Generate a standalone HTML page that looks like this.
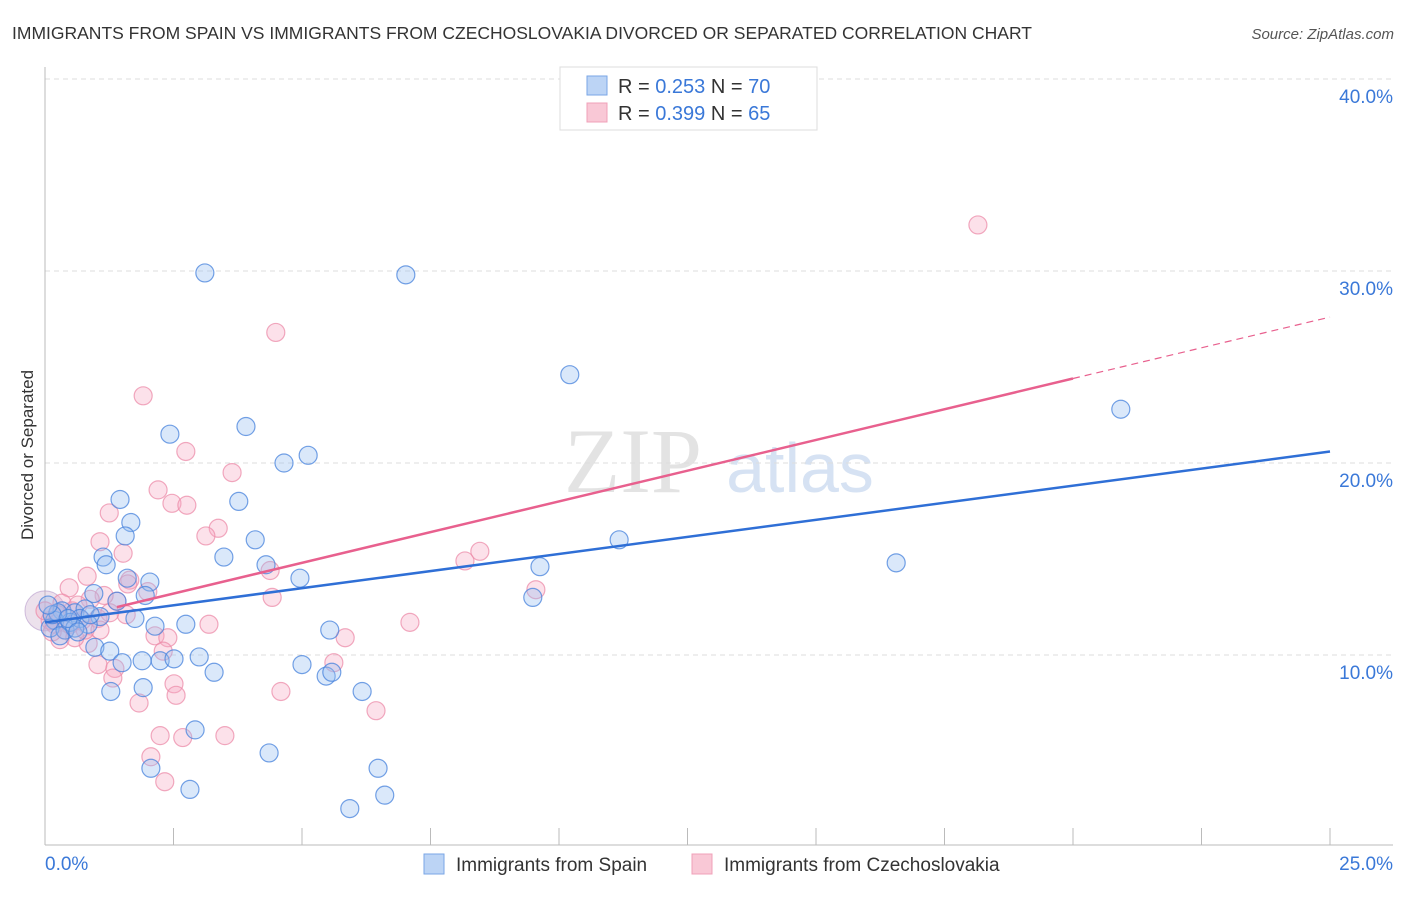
<!DOCTYPE html>
<html><head><meta charset="utf-8"><style>
body{margin:0;background:#fff;font-family:"Liberation Sans",sans-serif;}
</style></head><body>
<svg width="1406" height="892" xmlns="http://www.w3.org/2000/svg" id="chart" font-family="Liberation Sans, sans-serif">
<text x="12" y="39" font-size="17.5" fill="#333">IMMIGRANTS FROM SPAIN VS IMMIGRANTS FROM CZECHOSLOVAKIA DIVORCED OR SEPARATED CORRELATION CHART</text>
<text x="1394" y="39" font-size="15" fill="#555" font-style="italic" text-anchor="end">Source: ZipAtlas.com</text>
<text x="33" y="455" font-size="17" fill="#333" text-anchor="middle" transform="rotate(-90 33 455)">Divorced or Separated</text>
<g>
<text x="633" y="492" font-size="92" fill="#ddd" font-family="Liberation Serif, serif" text-anchor="middle" opacity="0.8">ZIP</text>
<text x="800" y="492" font-size="70" fill="#c5d7ee" text-anchor="middle" opacity="0.7">atlas</text>
</g>
<g id="grid"></g>
<g id="axes"></g>
<g id="points"></g>
<g id="lines"></g>
<g>
<rect x="560" y="67" width="257" height="63" fill="#fff" stroke="#ddd"/>
<rect x="587" y="76" width="20" height="19" fill="#bcd4f5" stroke="#7aa6e6"/>
<rect x="587" y="103" width="20" height="19" fill="#f9c8d6" stroke="#f0a0b8"/>
<text x="618" y="93" font-size="20" fill="#333">R = <tspan fill="#3a78d8">0.253</tspan>   N = <tspan fill="#3a78d8">70</tspan></text>
<text x="618" y="120" font-size="20" fill="#333">R = <tspan fill="#3a78d8">0.399</tspan>   N = <tspan fill="#3a78d8">65</tspan></text>
</g>
<g>
<rect x="424" y="854" width="20" height="20" fill="#bcd4f5" stroke="#7aa6e6"/>
<text x="456" y="871" font-size="19" fill="#333">Immigrants from Spain</text>
<rect x="692" y="854" width="20" height="20" fill="#f9c8d6" stroke="#f0a0b8"/>
<text x="724" y="871" font-size="19" fill="#333">Immigrants from Czechoslovakia</text>
</g>
</svg>
<script>
const blueX=[3.11,7.02,10.21,20.93,2.43,3.91,4.65,5.12,1.46,3.77,1.67,1.56,4.09,3.48,11.17,16.56,1.13,1.19,4.30,4.96,9.63,1.60,2.04,0.95,1.95,9.49,1.40,0.33,0.58,0.78,1.07,1.75,2.74,2.14,5.54,0.97,1.26,1.50,1.89,2.24,2.51,3.00,5.00,3.29,5.47,5.58,1.28,1.91,6.17,2.92,4.36,2.06,6.48,2.82,5.93,6.61,0.19,0.10,0.39,0.49,0.68,0.25,0.14,0.84,0.29,0.58,0.45,0.88,0.06,0.64];
const blueY=[29.9,29.8,24.6,22.8,21.5,21.9,20.0,20.4,18.1,18.0,16.9,16.2,16.0,15.1,16.0,14.8,15.1,14.7,14.7,14.0,14.6,14.0,13.8,13.2,13.1,13.0,12.8,12.3,12.2,12.4,12.0,11.9,11.6,11.5,11.3,10.4,10.2,9.6,9.7,9.7,9.8,9.9,9.5,9.1,8.9,9.1,8.1,8.3,8.1,6.1,4.9,4.1,4.1,3.0,2.0,2.7,11.8,11.4,11.3,11.7,11.9,12.2,12.1,11.6,11.0,11.4,11.9,12.1,12.6,11.2];
const pinkX=[18.15,4.49,1.91,2.74,3.64,2.20,2.47,2.76,1.25,3.37,3.13,1.07,1.52,8.17,8.46,0.82,1.65,1.61,4.38,0.47,2.00,9.55,4.42,1.40,1.15,7.10,3.19,1.58,1.03,5.84,2.14,2.39,0.84,2.30,5.62,1.03,1.36,1.32,2.51,2.55,4.59,1.83,6.44,2.24,2.68,3.50,2.06,2.33,0.29,0.19,0.53,0.72,0.39,0.10,0.33,0.88,0.58,0.25,0.78,0.49,1.07,1.26,0.14,0.64,0.0];
const pinkY=[32.4,26.8,23.5,20.6,19.5,18.6,17.9,17.8,17.4,16.6,16.2,15.9,15.3,14.9,15.4,14.1,13.9,13.7,14.4,13.5,13.3,13.4,13.0,12.8,13.1,11.7,11.6,12.1,11.9,10.9,11.0,10.9,10.6,10.2,9.6,9.5,9.3,8.8,8.5,7.9,8.1,7.5,7.1,5.8,5.7,5.8,4.7,3.4,10.8,11.6,12.3,11.8,11.3,11.8,12.7,12.9,10.9,12.1,11.3,11.6,11.3,12.2,11.2,12.6,12.3];
const yTicks=[10,20,30,40];
const yTickLabels=["10.0%","20.0%","30.0%","40.0%"];
const blueTrend=[11.7,20.6];
const pinkTrend=[11.6,24.4,27.6];
const pinkSolidEnd=20;
const NS="http://www.w3.org/2000/svg";
const sx=v=>45+v*51.4, sy=v=>847-v*19.2;
function mk(tag,attrs,parent){const e=document.createElementNS(NS,tag);for(const k in attrs)e.setAttribute(k,attrs[k]);document.getElementById(parent).appendChild(e);return e;}
yTicks.forEach((t,i)=>{
 const g=mk('line',{x1:45,x2:1393,y1:sy(t),y2:sy(t),stroke:'#ddd','stroke-dasharray':'5,4'},'grid');
 
 
 const l=mk('text',{x:1393,y:sy(t)+24,'font-size':19,fill:'#3a78d8','text-anchor':'end'},'grid');
 l.textContent=yTickLabels[i];
 
 
});
const ax=mk('line',{x1:45,x2:45,y1:67,y2:845,stroke:'#bbb'},'axes');


const bx=mk('line',{x1:45,x2:1393,y1:845,y2:845,stroke:'#bbb'},'axes');


for(let i=0;i<=10;i++){const t=mk('line',{x1:sx(i*2.5),x2:sx(i*2.5),y1:828,y2:845,stroke:'#bbb'},'axes');
 
 }
const x0=mk('text',{x:45,y:870,'font-size':19,fill:'#3a78d8'},'axes');x0.textContent='0.0%';


const x1=mk('text',{x:1393,y:870,'font-size':19,fill:'#3a78d8','text-anchor':'end'},'axes');x1.textContent='25.0%';


const big=mk('circle',{cx:sx(0),cy:sy(12.3),r:20,fill:'rgba(200,170,200,0.35)',stroke:'rgba(180,150,200,0.6)'},'points');


pinkX.forEach((x,i)=>{const c=mk('circle',{cx:sx(x),cy:sy(pinkY[i]),r:9,fill:'rgba(245,170,195,0.35)',stroke:'rgba(236,140,170,0.75)','stroke-width':1.2},'points');
 
 });
blueX.forEach((x,i)=>{const c=mk('circle',{cx:sx(x),cy:sy(blueY[i]),r:9,fill:'rgba(150,190,240,0.35)',stroke:'rgba(70,130,220,0.75)','stroke-width':1.2},'points');
 
 });
const bl=mk('line',{x1:sx(0),y1:sy(blueTrend[0]),x2:sx(25),y2:sy(blueTrend[1]),stroke:'#2f6fd6','stroke-width':2.5},'lines');


const pl=mk('line',{x1:sx(1.4),y1:sy(pinkTrend[0]+(pinkTrend[1]-pinkTrend[0])*1.4/pinkSolidEnd),x2:sx(pinkSolidEnd),y2:sy(pinkTrend[1]),stroke:'#e8608e','stroke-width':2.5},'lines');


const pd=mk('line',{x1:sx(pinkSolidEnd),y1:sy(pinkTrend[1]),x2:sx(25),y2:sy(pinkTrend[2]),stroke:'#e8608e','stroke-width':1.2,'stroke-dasharray':'7,5'},'lines');


</script>
</body></html>
